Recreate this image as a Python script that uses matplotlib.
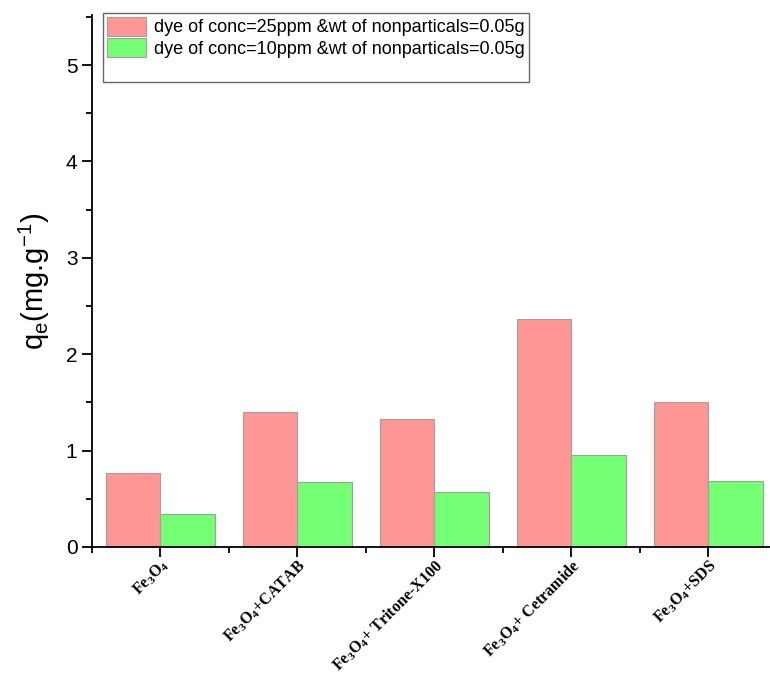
import matplotlib.pyplot as plt
import numpy as np
from matplotlib.patches import Patch
from matplotlib.ticker import MultipleLocator, FixedLocator

plt.rcParams['font.family'] = ['Liberation Sans', 'DejaVu Sans']
plt.rcParams['mathtext.fontset'] = 'custom'
plt.rcParams['mathtext.rm'] = 'Liberation Serif:bold'
plt.rcParams['mathtext.it'] = 'Liberation Serif:bold'
plt.rcParams['mathtext.bf'] = 'Liberation Serif:bold'

# adsorbent samples
samples = [r'Fe$_3$O$_4$', r'Fe$_3$O$_4$+CATAB', r'Fe$_3$O$_4$+ Tritone-X100',
           r'Fe$_3$O$_4$+ Cetramide', r'Fe$_3$O$_4$+SDS']
qe_25ppm = [0.77, 1.40, 1.33, 2.37, 1.50]
qe_10ppm = [0.34, 0.67, 0.57, 0.95, 0.69]
series_labels = ['dye of conc=25ppm &wt of nonparticals=0.05g',
                 'dye of conc=10ppm &wt of nonparticals=0.05g']

fig = plt.figure(figsize=(7.7, 6.75), dpi=100)
ax = fig.add_axes([92/770, 1 - 547/675, 1 - 92/770, (547 - 15)/675])

x = np.arange(len(samples))
w = 0.4
ax.bar(x - w/2, qe_25ppm, w, color='#FF9696', edgecolor='#a0a0a0', linewidth=0.8,
       label=series_labels[0])
ax.bar(x + w/2, qe_10ppm, w, color='#74FF74', edgecolor='#a0a0a0', linewidth=0.8,
       label=series_labels[1])

ax.set_xlim(-0.5, 4.45)
ax.set_ylim(0, 5.52)

for s in ['top', 'right']:
    ax.spines[s].set_visible(False)
for s in ['left', 'bottom']:
    ax.spines[s].set_linewidth(1.3)

ax.yaxis.set_major_locator(MultipleLocator(1))
ax.yaxis.set_minor_locator(MultipleLocator(0.5))
ax.xaxis.set_major_locator(FixedLocator(x))
ax.xaxis.set_minor_locator(FixedLocator(np.arange(-0.5, 5, 1)))
ax.tick_params(axis='both', which='major', direction='out', length=7, width=1.3)
ax.tick_params(axis='both', which='minor', direction='out', length=4.5, width=1.3)
ax.tick_params(axis='y', labelsize=15)
ax.tick_params(axis='x', pad=0)

ax.set_xticks(x)
ax.set_xticklabels(samples, rotation=45, ha='right', rotation_mode='anchor', fontsize=11.5)
for lbl in ax.get_xticklabels():
    lbl.set_fontfamily('Liberation Serif')
    lbl.set_fontweight('bold')

ax.set_ylabel(r'q$_\mathregular{e}$(mg.g$^\mathregular{-1}$)', fontsize=21, labelpad=10)
ax.yaxis.label.set_math_fontfamily('dejavusans')

# blank third row keeps some empty room at the bottom of the legend box
handles, labels = ax.get_legend_handles_labels()
handles.append(Patch(facecolor='none', edgecolor='none'))
labels.append(' ')
leg = ax.legend(handles, labels, loc='upper left', bbox_to_anchor=(11/678, 1.003),
                fontsize=13, frameon=True, fancybox=False, edgecolor='#404040',
                borderpad=0.2, handlelength=2.2, handleheight=1.2, handletextpad=0.45,
                labelspacing=0.1, borderaxespad=0)
leg.get_frame().set_linewidth(1.0)

fig.savefig('out.png', dpi=100)
